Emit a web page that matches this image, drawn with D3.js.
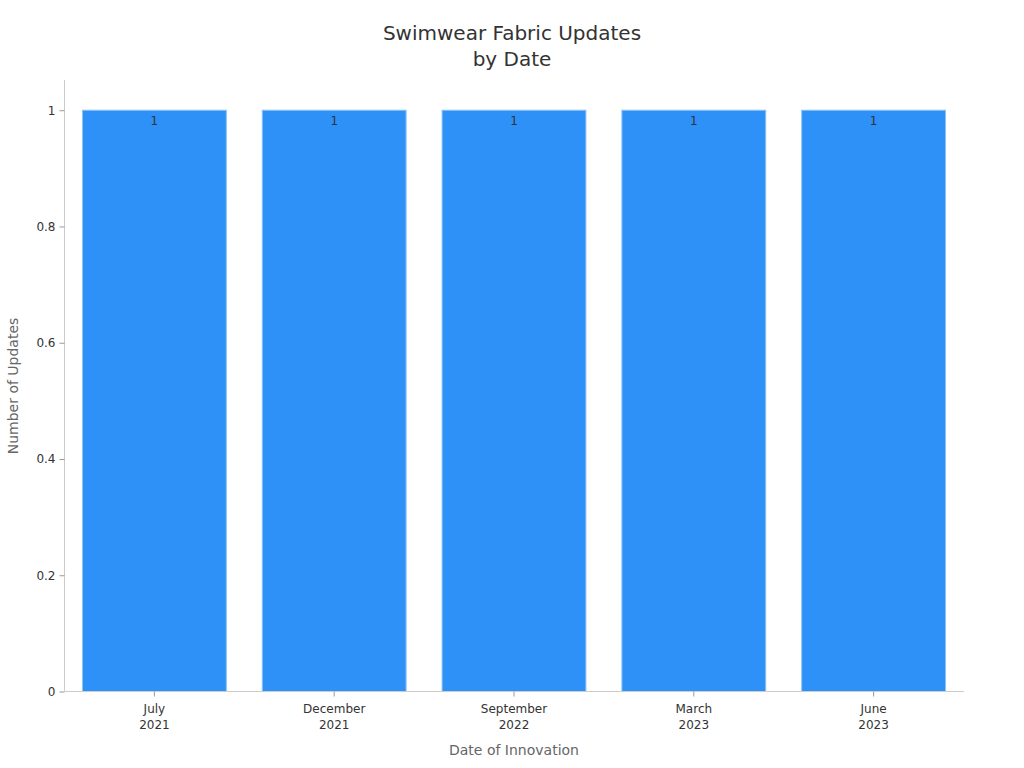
<!DOCTYPE html>
<html>
<head>
<meta charset="utf-8">
<script src="https://cdn.jsdelivr.net/npm/d3@7"></script>
<style>
  body { margin: 0; background: #fff; }
  text { font-family: "DejaVu Sans", sans-serif; }
</style>
</head>
<body>
<svg width="1024" height="768"></svg>
<script>
var months = ["July", "December", "September", "March", "June"];
var years = ["2021", "2021", "2022", "2023", "2023"];
var updates = [1, 1, 1, 1, 1];
var yTicks = [0, 0.2, 0.4, 0.6, 0.8, 1];

var data = months.map((m, i) => ({ key: i, month: m, year: years[i], value: updates[i] }));

var svg = d3.select('svg');

var xScale = d3.scaleBand()
    .domain(data.map(d => d.key))
    .range([64.5, 963.5])
    .paddingInner(0.2)
    .paddingOuter(0.1);

var yScale = d3.scaleLinear()
    .domain([0, 1.052])
    .range([691.5, 80]);

// bars
svg.selectAll("rect.bar")
    .data(data)
    .enter().append("rect")
    .attr("class", "bar")
    .attr("x", d => xScale(d.key))
    .attr("y", d => yScale(d.value))
    .attr("width", xScale.bandwidth())
    .attr("height", d => yScale(0) - yScale(d.value))
    .attr("fill", "#2e91f8")
    .attr("stroke", "#8cc3f5")
    .attr("stroke-width", 1);

// value labels
svg.selectAll("text.val")
    .data(data)
    .enter().append("text")
    .attr("class", "val")
    .attr("x", d => xScale(d.key) + xScale.bandwidth() / 2)
    .attr("y", d => yScale(d.value) + 15)
    .attr("text-anchor", "middle")
    .attr("font-size", 12)
    .attr("fill", "#333")
    .text(d => d.value);

// y axis
var yAxis = d3.axisLeft(yScale).tickValues(yTicks).tickSize(5).tickPadding(4)
    .tickFormat(d => d === 0 || d === 1 ? d3.format("d")(d) : d3.format(".1f")(d));
var gy = svg.append("g")
    .attr("class", "y axis")
    .attr("transform", "translate(64.5, 0)")
    .call(yAxis);
gy.select(".domain").attr("stroke", "#ccc").attr("d", "M0,80V691.5");
gy.selectAll(".tick line").attr("stroke", "#999");
gy.selectAll(".tick text").attr("font-size", 12).attr("fill", "#333").style("font-family", "DejaVu Sans");

// x axis
var xAxis = d3.axisBottom(xScale).tickSize(5).tickFormat("");
var gx = svg.append("g")
    .attr("class", "x axis")
    .attr("transform", "translate(0, 691.5)")
    .call(xAxis);
gx.select(".domain").attr("stroke", "#ccc").attr("d", "M64,0H964");
gx.selectAll(".tick line").attr("stroke", "#999");
gx.selectAll(".tick").each(function(k) {
    var d = data[k];
    var t = d3.select(this).append("text")
        .attr("text-anchor", "middle")
        .attr("font-size", 12)
        .attr("fill", "#333");
    t.append("tspan").attr("x", 0).attr("y", 21).text(d.month);
    t.append("tspan").attr("x", 0).attr("y", 37).text(d.year);
});

// titles
var title = svg.append("text")
    .attr("text-anchor", "middle")
    .attr("font-size", 20)
    .attr("fill", "#333");
title.append("tspan").attr("x", 512).attr("y", 40).text("Swimwear Fabric Updates");
title.append("tspan").attr("x", 512).attr("y", 66).text("by Date");

svg.append("text")
    .attr("x", 514)
    .attr("y", 755)
    .attr("text-anchor", "middle")
    .attr("font-size", 14)
    .attr("fill", "#666")
    .text("Date of Innovation");

svg.append("text")
    .attr("transform", "translate(18, 386) rotate(-90)")
    .attr("text-anchor", "middle")
    .attr("font-size", 14)
    .attr("fill", "#666")
    .text("Number of Updates");
</script>
</body>
</html>
